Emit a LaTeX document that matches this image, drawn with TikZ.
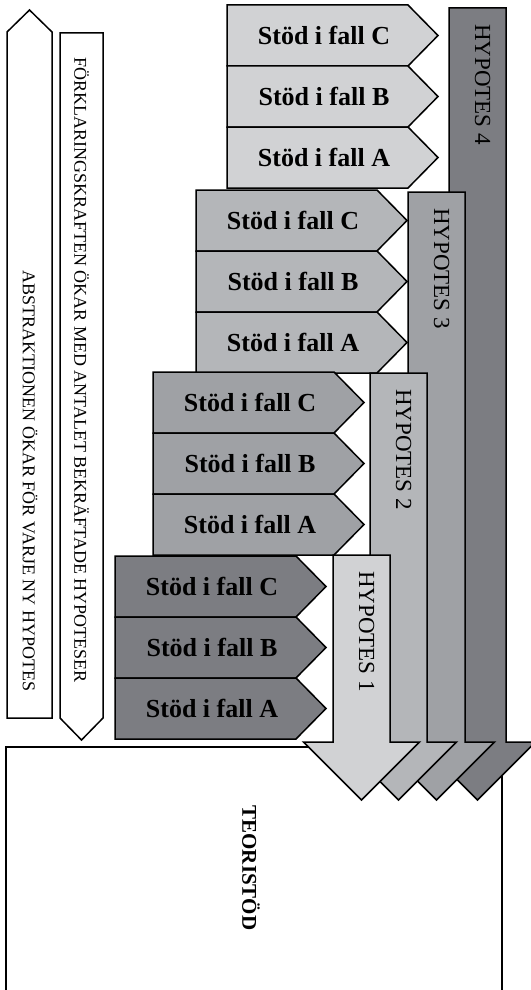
\documentclass[tikz,border=0pt]{standalone}
\usepackage{fontspec}
\setmainfont{Liberation Serif}
\definecolor{gA}{HTML}{D1D2D4}
\definecolor{gB}{HTML}{B4B6B9}
\definecolor{gC}{HTML}{9FA1A5}
\definecolor{gD}{HTML}{7C7D82}
\tikzset{
 shapeline/.style={draw=black, line width=1.5pt, line join=miter},
 stodtext/.style={font=\fontsize{26}{28}\selectfont\bfseries, inner sep=0pt},
 hyptext/.style={font=\fontsize{23}{25}\selectfont, inner sep=0pt, rotate=-90, anchor=west},
 sidetext/.style={font=\fontsize{18}{20}\selectfont, inner sep=0pt, rotate=-90},
 teoritext/.style={font=\fontsize{21}{23}\selectfont\bfseries, inner sep=0pt, rotate=-90},
}
\newcommand\chevbox[5]{%
 \filldraw[shapeline, fill=#3] (#1,#2) -- ++(181,0) -- ++(30,30.5) -- ++(-30,30.5) -- ++(-181,0) -- cycle;
 \node[stodtext] (#5) at (#1+97,#2+30.5) {#4};
}
\newcommand\hyparrow[5]{%
 \filldraw[shapeline, fill=#3] (#1-28.5,#2) -- (#1+28.5,#2) -- (#1+28.5,742) -- (#1+58,742) -- (#1,800) -- (#1-58,742) -- (#1-28.5,742) -- cycle;
 \node[hyptext] (#5) at (#1+5,#2+16) {#4};
}
\begin{document}
\begin{tikzpicture}[x=1pt,y=-1pt]
\useasboundingbox (0,0) rectangle (530,990);
% theory support box
\draw[shapeline] (6,1000) -- (6,747) -- (502,747) -- (502,1000);
\node[teoritext] (teori) at (251,868) {TEORISTÖD};
% left arrows
\filldraw[shapeline, fill=white] (7,718) -- (7,32) -- (29.5,10) -- (52,32) -- (52,718) -- cycle;
\node[sidetext] (abs) at (30,481) {ABSTRAKTIONEN ÖKAR FÖR VARJE NY HYPOTES};
\filldraw[shapeline, fill=white] (60,33) -- (103,33) -- (103,718) -- (81.5,740) -- (60,718) -- cycle;
\node[sidetext] (fork) at (81.5,370) {FÖRKLARINGSKRAFTEN ÖKAR MED ANTALET BEKRÄFTADE HYPOTESER};
% support groups
\chevbox{227}{5}{gA}{Stöd i fall C}{g4c}
\chevbox{227}{66}{gA}{Stöd i fall B}{g4b}
\chevbox{227}{127}{gA}{Stöd i fall A}{g4a}
\chevbox{196}{190}{gB}{Stöd i fall C}{g3c}
\chevbox{196}{251}{gB}{Stöd i fall B}{g3b}
\chevbox{196}{312}{gB}{Stöd i fall A}{g3a}
\chevbox{153}{372}{gC}{Stöd i fall C}{g2c}
\chevbox{153}{433}{gC}{Stöd i fall B}{g2b}
\chevbox{153}{494}{gC}{Stöd i fall A}{g2a}
\chevbox{115}{556}{gD}{Stöd i fall C}{g1c}
\chevbox{115}{617}{gD}{Stöd i fall B}{g1b}
\chevbox{115}{678}{gD}{Stöd i fall A}{g1a}
% hypothesis arrows
\hyparrow{477.5}{8}{gD}{HYPOTES 4}{h4}
\hyparrow{436.5}{192}{gC}{HYPOTES 3}{h3}
\hyparrow{398.5}{373}{gB}{HYPOTES 2}{h2}
\hyparrow{361.5}{555}{gA}{HYPOTES 1}{h1}
\end{tikzpicture}
\end{document}
